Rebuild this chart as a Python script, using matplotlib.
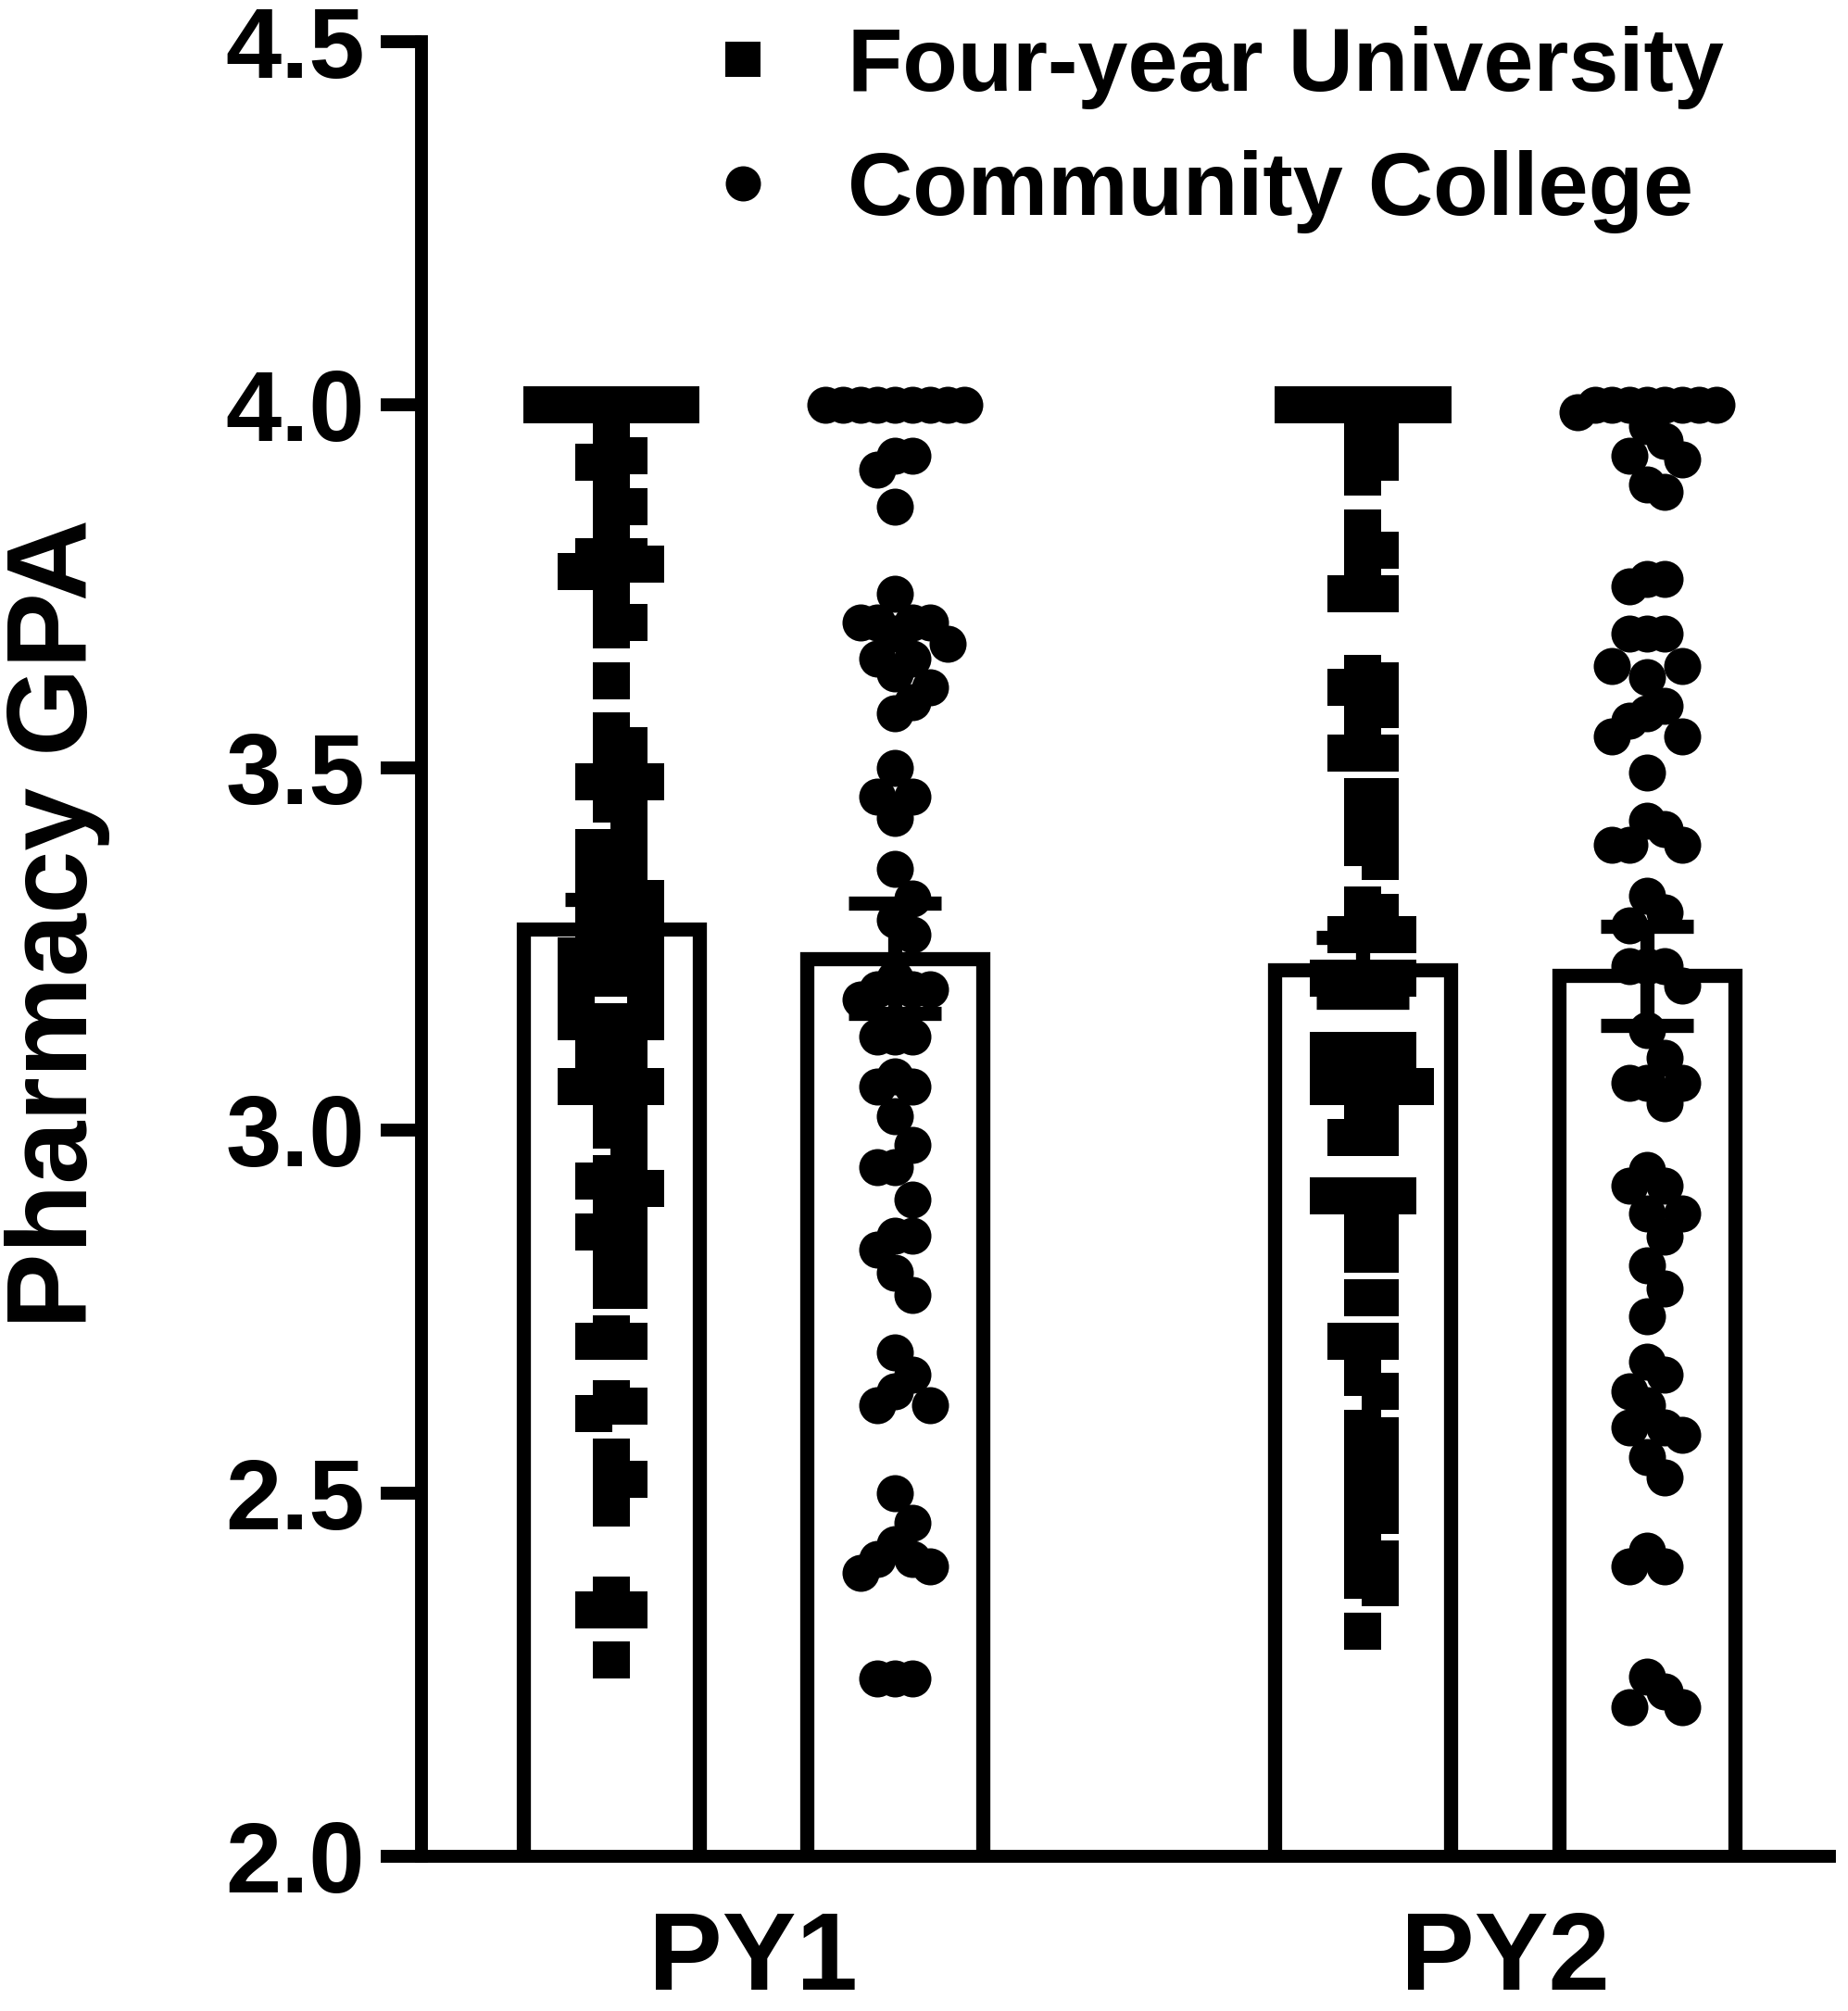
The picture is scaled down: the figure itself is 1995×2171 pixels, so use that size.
import numpy as np
import matplotlib
matplotlib.use("Agg")
import matplotlib.pyplot as plt
from matplotlib.lines import Line2D

plt.rcParams['font.family'] = ['Liberation Sans', 'DejaVu Sans']
plt.rcParams['font.weight'] = 'bold'

# valores
anos = ["PY1", "PY2"]
grupos = ["Four-year University", "Community College"]

fy_py1 = [4.0, 4.0, 4.0, 4.0, 4.0, 4.0, 4.0, 4.0, 4.0, 4.0,
          3.96, 3.93, 3.93, 3.92, 3.88, 3.86, 3.84, 3.80, 3.79, 3.79,
          3.78, 3.77, 3.77, 3.72, 3.70, 3.69, 3.62, 3.55, 3.53, 3.50,
          3.50, 3.48, 3.48, 3.45, 3.44, 3.39, 3.39, 3.39, 3.34, 3.34,
          3.34, 3.32, 3.30, 3.29, 3.29, 3.29, 3.26, 3.26, 3.24, 3.24,
          3.24, 3.21, 3.21, 3.21, 3.20, 3.20, 3.15, 3.15, 3.15, 3.15,
          3.15, 3.11, 3.11, 3.11, 3.07, 3.07, 3.07, 3.06, 3.06, 3.04,
          3.04, 3.00, 2.99, 2.94, 2.94, 2.93, 2.92, 2.91, 2.90, 2.86,
          2.86, 2.86, 2.82, 2.82, 2.78, 2.78, 2.72, 2.71, 2.71, 2.63,
          2.62, 2.61, 2.55, 2.52, 2.52, 2.48, 2.36, 2.34, 2.34, 2.27]

cc_py1 = [4.0, 4.0, 4.0, 4.0, 4.0, 4.0, 4.0, 4.0, 4.0,
          3.93, 3.93, 3.91, 3.86, 3.74, 3.70, 3.70, 3.70, 3.70, 3.685,
          3.67, 3.65, 3.65, 3.63, 3.61, 3.59, 3.575, 3.50, 3.46, 3.46,
          3.43, 3.36, 3.32, 3.29, 3.27, 3.21, 3.195, 3.195, 3.195, 3.18,
          3.13, 3.13, 3.13, 3.075, 3.06, 3.06, 3.02, 2.98, 2.95, 2.95,
          2.905, 2.855, 2.855, 2.836, 2.804, 2.773, 2.694, 2.663, 2.641, 2.622,
          2.622, 2.50, 2.46, 2.43, 2.41, 2.41, 2.40, 2.39, 2.245, 2.245,
          2.245]

fy_py2 = [4.0, 4.0, 4.0, 4.0, 4.0, 4.0, 4.0, 4.0, 4.0, 4.0,
          3.99, 3.99, 3.96, 3.96, 3.93, 3.92, 3.90, 3.83, 3.80, 3.80,
          3.76, 3.74, 3.74, 3.63, 3.62, 3.61, 3.58, 3.58, 3.54, 3.52,
          3.52, 3.46, 3.46, 3.43, 3.41, 3.39, 3.37, 3.31, 3.30, 3.27,
          3.27, 3.27, 3.27, 3.21, 3.21, 3.21, 3.21, 3.21, 3.11, 3.11,
          3.11, 3.11, 3.11, 3.08, 3.08, 3.08, 3.06, 3.06, 3.06, 3.04,
          3.04, 2.99, 2.99, 2.99, 2.91, 2.91, 2.91, 2.91, 2.91, 2.87,
          2.87, 2.83, 2.83, 2.77, 2.77, 2.71, 2.71, 2.71, 2.66, 2.64,
          2.59, 2.58, 2.55, 2.55, 2.51, 2.51, 2.47, 2.47, 2.44, 2.41,
          2.41, 2.38, 2.37, 2.31]

cc_py2 = [4.0, 4.0, 4.0, 4.0, 4.0, 4.0, 4.0, 4.0,
          3.99, 3.97, 3.95, 3.93, 3.925, 3.89, 3.88, 3.76, 3.76, 3.75,
          3.685, 3.685, 3.685, 3.64, 3.64, 3.625, 3.585, 3.575, 3.565, 3.543,
          3.543, 3.493, 3.427, 3.415, 3.393, 3.393, 3.393, 3.324, 3.30, 3.283,
          3.226, 3.226, 3.226, 3.20, 3.138, 3.10, 3.065, 3.065, 3.065, 3.037,
          2.946, 2.924, 2.924, 2.886, 2.886, 2.854, 2.814, 2.782, 2.744, 2.681,
          2.663, 2.641, 2.622, 2.591, 2.591, 2.581, 2.55, 2.522, 2.421, 2.40,
          2.40, 2.248, 2.227, 2.205, 2.205]

# medias e erro padrao (barras)
medias = [3.278, 3.237, 3.221, 3.213]
erros = [0.040, 0.076, 0.045, 0.068]

colunas = [fy_py1, cc_py1, fy_py2, cc_py2]
marcadores = ['s', 'o', 's', 'o']
centros = [0.0, 2.648]
posicoes = [centros[0] - 0.5, centros[0] + 0.5, centros[1] - 0.5, centros[1] + 0.5]

fig = plt.figure(figsize=(19.95, 21.71), dpi=100)
ax = fig.add_axes([455 / 1995, 1 - 2004 / 2171, 1520 / 1995, (2004 - 45) / 2171])
ax.set_xlim(-1.168, 3.791)
ax.set_ylim(2.0, 4.5)

# pixels por unidade, pelas escalas do proprio eixo
p0 = ax.transData.transform((0, 2.0))
p1 = ax.transData.transform((1, 3.0))
px_x = p1[0] - p0[0]
px_y = p1[1] - p0[1]

tam = 40  # tamanho do marcador em px
passo = 0.47 * tam
max_k = 4


def enxame(valores, alt):
    # alt: distancia vertical minima (px) para empilhar no mesmo x
    colocados = []
    saida = []
    ordem = [0]
    for k in range(1, max_k + 1):
        ordem += [k, -k]
    for v in valores:
        y = v * px_y
        escolhido = None
        melhor = None
        melhor_d = -1
        for k in ordem:
            x = k * passo
            bate = [(a, b) for a, b in colocados
                    if abs(x - a) < passo * 0.99 and abs(y - b) < alt]
            if not bate:
                escolhido = x
                break
            dmin = min(np.hypot(x - a, y - b) for a, b in bate)
            if dmin > melhor_d:
                melhor_d = dmin
                melhor = x
        if escolhido is None:
            escolhido = melhor
        colocados.append((escolhido, y))
        saida.append(escolhido / px_x)
    return np.array(saida)


ax.bar(posicoes, medias, width=0.62, bottom=0, fill=True, facecolor='white',
       edgecolor='black', linewidth=11, zorder=1)

ms = tam * 72 / 100
for pos, vals, mk in zip(posicoes, colunas, marcadores):
    alt = 0.95 * tam if mk == 'o' else 0.55 * tam
    dx = enxame(vals, alt)
    ax.plot(pos + dx, vals, linestyle='none', marker=mk, ms=ms, mew=0,
            color='black', zorder=2)

ax.errorbar(posicoes, medias, yerr=erros, fmt='none', ecolor='black',
            elinewidth=11, capsize=36, capthick=11, zorder=3)

for lado in ['top', 'right']:
    ax.spines[lado].set_visible(False)
for lado in ['left', 'bottom']:
    ax.spines[lado].set_linewidth(10)
    ax.spines[lado].set_capstyle('projecting')

ax.set_yticks([2.0, 2.5, 3.0, 3.5, 4.0, 4.5])
ax.set_yticklabels(["2.0", "2.5", "3.0", "3.5", "4.0", "4.5"])
ax.tick_params(axis='y', length=32, width=10, pad=12, labelsize=78)
ax.set_xticks(centros)
ax.set_xticklabels(anos)
ax.tick_params(axis='x', length=0, pad=42, labelsize=86)

fig.text(62 / 1995, 1 - 997 / 2171, "Pharmacy GPA", rotation=90,
         ha='center', va='center', fontsize=88, fontweight='bold')

alcas = [Line2D([], [], linestyle='none', marker='s', ms=ms * 0.95, mew=0, color='black'),
         Line2D([], [], linestyle='none', marker='o', ms=ms * 0.95, mew=0, color='black')]
ax.legend(alcas, grupos, loc='upper left', bbox_to_anchor=(780 / 1995, 1 - 28 / 2171),
          bbox_transform=fig.transFigure, frameon=False, fontsize=70,
          handlelength=0.46, handletextpad=0.93, labelspacing=0.45,
          borderpad=0, borderaxespad=0)

fig.savefig("out.png", dpi=100)
